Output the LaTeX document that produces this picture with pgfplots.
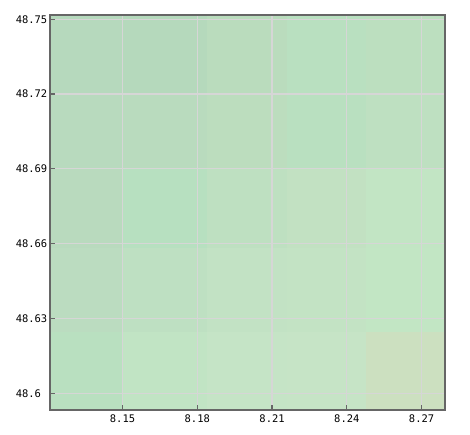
\documentclass[border=0pt]{standalone}
\usepackage{fontspec}
\setmonofont{DejaVu Sans Mono}
\usepackage{pgfplots}
\pgfplotsset{compat=1.18}

% map tile colours, row (top to bottom) / column (left to right)
\definecolor{t11}{HTML}{B6D9BD}\definecolor{t12}{HTML}{B5D9BC}\definecolor{t13}{HTML}{BADCBD}\definecolor{t14}{HTML}{B9E0C0}\definecolor{t15}{HTML}{BCDFBF}
\definecolor{t21}{HTML}{B8DABE}\definecolor{t22}{HTML}{B9DBBE}\definecolor{t23}{HTML}{BCDDBE}\definecolor{t24}{HTML}{B9E0C0}\definecolor{t25}{HTML}{BEE0C1}
\definecolor{t31}{HTML}{B9DABE}\definecolor{t32}{HTML}{B7E0C0}\definecolor{t33}{HTML}{BEE0C1}\definecolor{t34}{HTML}{C2E1C2}\definecolor{t35}{HTML}{C2E5C4}
\definecolor{t41}{HTML}{BBDCC0}\definecolor{t42}{HTML}{BEE0C2}\definecolor{t43}{HTML}{C2E2C4}\definecolor{t44}{HTML}{C3E3C4}\definecolor{t45}{HTML}{C2E6C4}
\definecolor{t51}{HTML}{B9E0C0}\definecolor{t52}{HTML}{C1E4C4}\definecolor{t53}{HTML}{C5E4C6}\definecolor{t54}{HTML}{C6E4C6}\definecolor{t55}{HTML}{CCE0C0}
\definecolor{axisgray}{HTML}{666666}
\definecolor{gridgray}{HTML}{D6D6D6}

% x1 x2 y1 y2 colour
\newcommand\tile[5]{\addplot[draw=#5,line width=0.6bp,fill=#5] coordinates {(#1,#3) (#2,#3) (#2,#4) (#1,#4)} -- cycle;}

\begin{document}
\begin{tikzpicture}[x=1bp,y=1bp]
\useasboundingbox (0,0) rectangle (470,435);
\begin{axis}[
  at={(50bp,25bp)}, anchor=south west,
  scale only axis, width=395bp, height=395bp,
  xmin=8.1209, xmax=8.2794,
  ymin=48.5933, ymax=48.7517,
  xtick={8.15,8.18,8.21,8.24,8.27},
  ytick={48.6,48.63,48.66,48.69,48.72,48.75},
  axis on top,
  grid=major,
  major grid style={gridgray, line width=1.2bp},
  axis line style={axisgray, line width=1.2bp},
  tick style={axisgray, line width=1.2bp},
  tick align=inside, major tick length=5bp,
  xtick pos=bottom, ytick pos=left,
  font=\ttfamily\fontsize{10.5}{12}\selectfont,
  /pgf/number format/assume math mode=true,
  xticklabel style={yshift=-1bp},
  yticklabel style={text width=32bp, align=left, inner sep=0pt, xshift=-2bp},
]
\tile{8.1209}{8.1500}{48.7200}{48.7517}{t11}
\tile{8.1500}{8.1839}{48.7200}{48.7517}{t12}
\tile{8.1839}{8.2160}{48.7200}{48.7517}{t13}
\tile{8.2160}{8.2477}{48.7200}{48.7517}{t14}
\tile{8.2477}{8.2794}{48.7200}{48.7517}{t15}
\tile{8.1209}{8.1500}{48.6904}{48.7200}{t21}
\tile{8.1500}{8.1839}{48.6904}{48.7200}{t22}
\tile{8.1839}{8.2160}{48.6904}{48.7200}{t23}
\tile{8.2160}{8.2477}{48.6904}{48.7200}{t24}
\tile{8.2477}{8.2794}{48.6904}{48.7200}{t25}
\tile{8.1209}{8.1500}{48.6583}{48.6904}{t31}
\tile{8.1500}{8.1839}{48.6583}{48.6904}{t32}
\tile{8.1839}{8.2160}{48.6583}{48.6904}{t33}
\tile{8.2160}{8.2477}{48.6583}{48.6904}{t34}
\tile{8.2477}{8.2794}{48.6583}{48.6904}{t35}
\tile{8.1209}{8.1500}{48.6246}{48.6583}{t41}
\tile{8.1500}{8.1839}{48.6246}{48.6583}{t42}
\tile{8.1839}{8.2160}{48.6246}{48.6583}{t43}
\tile{8.2160}{8.2477}{48.6246}{48.6583}{t44}
\tile{8.2477}{8.2794}{48.6246}{48.6583}{t45}
\tile{8.1209}{8.1500}{48.5933}{48.6246}{t51}
\tile{8.1500}{8.1839}{48.5933}{48.6246}{t52}
\tile{8.1839}{8.2160}{48.5933}{48.6246}{t53}
\tile{8.2160}{8.2477}{48.5933}{48.6246}{t54}
\tile{8.2477}{8.2794}{48.5933}{48.6246}{t55}
\end{axis}
\end{tikzpicture}
\end{document}
